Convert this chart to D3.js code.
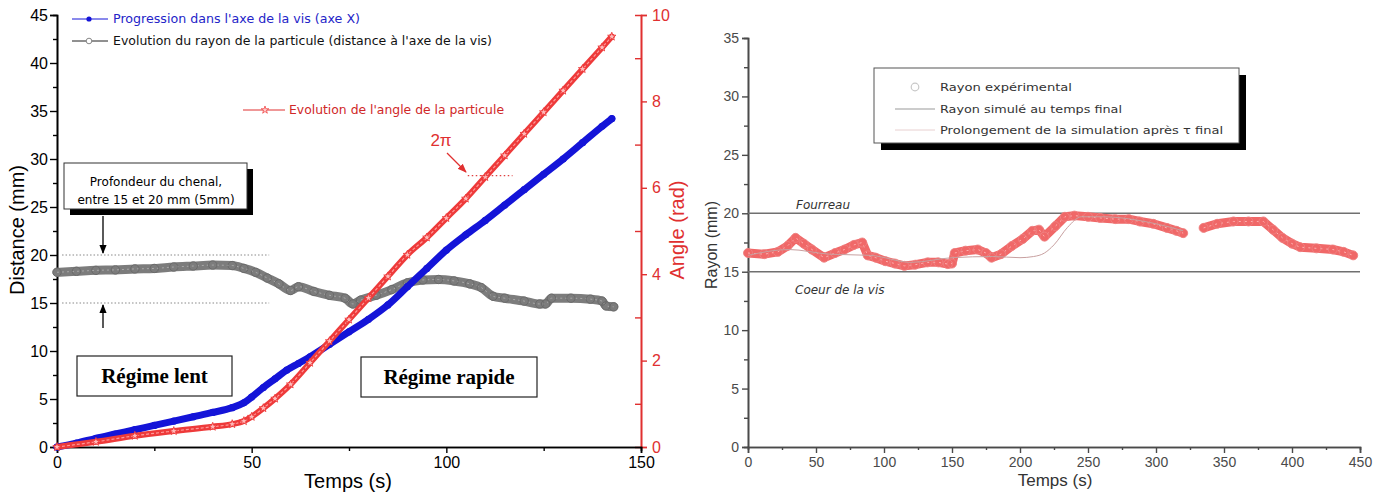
<!DOCTYPE html>
<html><head><meta charset="utf-8">
<script src="https://cdn.jsdelivr.net/npm/d3@7"></script>
<style>body{margin:0;background:#fff}svg{display:block}</style>
</head><body>
<svg id="c" width="1385" height="493"></svg>
<script>
// ---------- Data: left chart ----------
const blueT = [0,5,10,15,20,25,30,35,40,45,48,50,53,56,59,62,65,70,75,80,85,90,95,100,105,110,115,120,125,130,135,140,142.5];
const blueV = [0,0.4,0.9,1.35,1.8,2.25,2.7,3.15,3.6,4.1,4.6,5.2,6.2,7.1,8.0,8.7,9.4,10.7,12.0,13.3,14.8,16.7,18.6,20.5,22.1,23.6,25.2,26.8,28.4,30.0,31.7,33.4,34.2];
const redT = [0,10,20,30,40,45,48,50,53,56,60,65,70,75,80,85,90,95,100,105,110,115,120,125,130,135,140,142.5];
const redV = [0,0.12,0.26,0.37,0.47,0.53,0.6,0.7,0.9,1.12,1.45,1.95,2.45,2.95,3.45,3.95,4.45,4.85,5.3,5.75,6.25,6.75,7.25,7.75,8.25,8.75,9.25,9.5];
const grayT = [0,5,10,15,20,25,30,35,40,45,48,51,54,57,60,62,66,70,74,76,78,82,86,90,94,98,102,106,109,112,115,120,124,125.5,127,132,137,140,141,143];
const grayV = [18.2,18.3,18.4,18.45,18.55,18.6,18.75,18.85,18.95,18.9,18.6,18.2,17.6,17.0,16.3,16.7,16.2,15.8,15.5,14.9,15.3,15.8,16.4,17.1,17.4,17.45,17.3,17.0,16.6,15.7,15.5,15.2,14.9,14.9,15.5,15.5,15.4,15.2,14.7,14.6];
const xTicksL = [0,50,100,150];
const yTicksL = [0,5,10,15,20,25,30,35,40,45];
const aTicks = [0,2,4,6,8,10];
const channelLevels = [15,20];
const twoPiSpan = [105.5,117];

// ---------- Data: right chart ----------
const expSeg1T = [0,12,22,29,35,41,47,56,64,71,78,84,88,94,101,108,115,123,132,140,147,150,152,160,169,175,179,186,194,202,209,214,218,226,233,240,250,259,270,280,288,298,308,315,320];
const expSeg1V = [16.6,16.5,16.7,17.2,17.9,17.4,16.9,16.2,16.6,16.9,17.3,17.5,16.4,16.2,15.9,15.7,15.5,15.6,15.8,15.8,15.65,15.7,16.6,16.8,16.9,16.6,16.2,16.5,17.2,17.8,18.5,18.6,18.0,18.9,19.7,19.8,19.7,19.6,19.5,19.5,19.3,19.1,18.75,18.5,18.3];
const expSeg2T = [335,345,357,368,379,386,393,400,406,418,430,438,445];
const expSeg2V = [18.75,19.1,19.3,19.3,19.3,18.6,17.9,17.4,17.1,17.0,16.9,16.7,16.4];
const simT = [0,30,60,90,120,150,180,200,210,218,225,235,245,260,300,320];
const simV = [16.4,16.9,16.5,16.4,15.8,16.2,16.3,16.2,16.3,16.6,17.3,18.8,19.7,19.7,19.1,18.5];
const xTicksR = [0,50,100,150,200,250,300,350,400,450];
const yTicksR = [0,5,10,15,20,25,30,35];
const boundLevels = [{v:20,label:"Fourreau"},{v:15,label:"Coeur de la vis"}];

// ---------- Drawing ----------
const svg = d3.select("#c");
const comic = "'DejaVu Sans', sans-serif";

const xL = d3.scaleLinear().domain([0,150]).range([57,641]);
const yL = d3.scaleLinear().domain([0,45]).range([447,15]);
const yA = d3.scaleLinear().domain([0,10]).range([447,15]);
const xR = d3.scaleLinear().domain([0,450]).range([748,1360]);
const yR = d3.scaleLinear().domain([0,35]).range([447,38]);

function styleAxis(g, color, fs, family){
  g.selectAll("path.domain").attr("stroke", color).attr("stroke-width", 1.6);
  g.selectAll(".tick line").attr("stroke", color).attr("stroke-width", 1.4);
  g.selectAll(".tick text").attr("fill", color).style("font-size", fs+"px").style("font-family", family||"Arial, 'Liberation Sans', sans-serif");
}
const minorOf = (arr, step) => { const r=[]; for(let i=0;i<arr.length-1;i++) r.push(arr[i]+step/2); return r; };

// ----- Left chart axes -----
let g = svg.append("g").attr("transform","translate(57,0)")
  .call(d3.axisLeft(yL).tickValues(minorOf(yTicksL,5)).tickSize(4).tickFormat(""));
styleAxis(g,"#000",16);
g = svg.append("g").attr("transform","translate(57,0)")
  .call(d3.axisLeft(yL).tickValues(yTicksL).tickSize(7).tickPadding(2).tickFormat(d3.format("d")));
styleAxis(g,"#000",16);

g = svg.append("g").attr("transform","translate(641,0)")
  .call(d3.axisLeft(yA).tickValues(minorOf(aTicks,2)).tickSize(6).tickFormat(""));
styleAxis(g,"#e03030",16);
g = svg.append("g").attr("transform","translate(641,0)")
  .call(d3.axisRight(yA).tickValues(aTicks).tickSize(6).tickPadding(5).tickFormat(d3.format("d")));
styleAxis(g,"#e03030",16);

g = svg.append("g").attr("transform","translate(0,447)")
  .call(d3.axisBottom(xL).tickValues(minorOf(xTicksL,50)).tickSize(4).tickFormat(""));
styleAxis(g,"#000",16);
g = svg.append("g").attr("transform","translate(0,447)")
  .call(d3.axisBottom(xL).tickValues(xTicksL).tickSize(6).tickPadding(4).tickFormat(d3.format("d")));
styleAxis(g,"#000",16);

svg.append("text").attr("x",348).attr("y",488).attr("text-anchor","middle")
  .style("font-family","Arial, 'Liberation Sans', sans-serif").style("font-size","20px").text("Temps (s)");
svg.append("text").attr("transform","translate(24,230) rotate(-90)").attr("text-anchor","middle")
  .style("font-family","Arial, 'Liberation Sans', sans-serif").style("font-size","20px").text("Distance (mm)");
svg.append("text").attr("transform","translate(684,230) rotate(-90)").attr("text-anchor","middle").attr("fill","#e03030")
  .style("font-family","Arial, 'Liberation Sans', sans-serif").style("font-size","20px").text("Angle (rad)");

svg.selectAll("line.chan").data(channelLevels).join("line")
  .attr("x1",xL(1.3)).attr("x2",xL(54.5)).attr("y1",d=>yL(d)).attr("y2",d=>yL(d))
  .attr("stroke","#888").attr("stroke-width",1).attr("stroke-dasharray","1.5,2");

const lineL = (ts,vs,y) => d3.line().x((d,i)=>xL(ts[i])).y(d=>y(d)).curve(d3.curveMonotoneX)(vs);
// gray
svg.append("path").attr("d",lineL(grayT,grayV,yL)).attr("fill","none").attr("stroke","#7c7c7c").attr("stroke-width",9).attr("stroke-linecap","round");
svg.append("path").attr("d",lineL(grayT,grayV,yL)).attr("fill","none").attr("stroke","#a8a8a8").attr("stroke-width",1).attr("stroke-dasharray","2,3");
svg.selectAll("circle.gr").data(grayV).join("circle")
  .attr("cx",(d,i)=>xL(grayT[i])).attr("cy",d=>yL(d)).attr("r",4.2)
  .attr("fill","none").attr("stroke","#6a6a6a").attr("stroke-width",1);
// blue
svg.append("path").attr("d",lineL(blueT,blueV,yL)).attr("fill","none").attr("stroke","#1414d8").attr("stroke-width",7).attr("stroke-linecap","round");
svg.selectAll("circle.bl").data(blueV).join("circle")
  .attr("cx",(d,i)=>xL(blueT[i])).attr("cy",d=>yL(d)).attr("r",3.6).attr("fill","#1414d8");
// red
svg.append("path").attr("d",lineL(redT,redV,yA)).attr("fill","none").attr("stroke","#ee3a3a").attr("stroke-width",6).attr("stroke-linecap","round");
svg.append("path").attr("d",lineL(redT,redV,yA)).attr("fill","none").attr("stroke","#ff9a9a").attr("stroke-width",1.2).attr("stroke-dasharray","3,2");
svg.selectAll("path.star").data(redV).join("path")
  .attr("transform",(d,i)=>`translate(${xL(redT[i])},${yA(d)})`)
  .attr("d",d3.symbol(d3.symbolStar,22)).attr("fill","#fbb").attr("stroke","#e33").attr("stroke-width",0.8);

// 2pi marker
svg.append("line").attr("x1",xL(twoPiSpan[0])).attr("x2",xL(twoPiSpan[1]))
  .attr("y1",yA(2*Math.PI)).attr("y2",yA(2*Math.PI))
  .attr("stroke","#e04040").attr("stroke-width",1.2).attr("stroke-dasharray","1.5,2.5");
svg.append("text").attr("x",441).attr("y",146).attr("text-anchor","middle").attr("fill","#e03030")
  .style("font-family","Arial, 'Liberation Sans', sans-serif").style("font-size","17px").text("2π");
const defs = svg.append("defs");
function marker(id,color){
  defs.append("marker").attr("id",id).attr("viewBox","0 0 10 10").attr("refX",9).attr("refY",5)
   .attr("markerWidth",7).attr("markerHeight",7).attr("orient","auto")
   .append("path").attr("d","M0,1 L10,5 L0,9 Z").attr("fill",color);
}
marker("ar","#e03030"); marker("ak","#000");
svg.append("line").attr("x1",447).attr("y1",153).attr("x2",466).attr("y2",172).attr("stroke","#e03030").attr("stroke-width",1.3).attr("marker-end","url(#ar)");

// Profondeur box
svg.append("rect").attr("x",70).attr("y",169).attr("width",183).attr("height",46).attr("fill","#000");
svg.append("rect").attr("x",64).attr("y",163).attr("width",183).attr("height",46).attr("fill","#fff").attr("stroke","#333").attr("stroke-width",1);
svg.append("text").attr("x",156).attr("y",186).attr("text-anchor","middle").style("font-family",comic).style("font-size","12px").text("Profondeur du chenal,");
svg.append("text").attr("x",156).attr("y",204).attr("text-anchor","middle").style("font-family",comic).style("font-size","12px").text("entre 15 et 20 mm (5mm)");
svg.append("line").attr("x1",103).attr("y1",216).attr("x2",103).attr("y2",253).attr("stroke","#000").attr("stroke-width",1.3).attr("marker-end","url(#ak)");
svg.append("line").attr("x1",103).attr("y1",328).attr("x2",103).attr("y2",305).attr("stroke","#000").attr("stroke-width",1.3).attr("marker-end","url(#ak)");

// regime boxes
[["Régime lent",77,356,155],["Régime rapide",361,357,176]].forEach(([t,x,y,w])=>{
  svg.append("rect").attr("x",x).attr("y",y).attr("width",w).attr("height",40).attr("fill","#fff").attr("stroke","#222").attr("stroke-width",1.2);
  svg.append("text").attr("x",x+w/2).attr("y",y+27).attr("text-anchor","middle")
   .style("font-family","'Liberation Serif', 'DejaVu Serif', serif").style("font-weight","bold").style("font-size","21px").text(t);
});

// legend left
svg.append("line").attr("x1",72).attr("x2",108).attr("y1",19).attr("y2",19).attr("stroke","#1414d8").attr("stroke-width",1);
svg.append("circle").attr("cx",89).attr("cy",19).attr("r",2.6).attr("fill","#1414d8");
svg.append("text").attr("x",113).attr("y",23).attr("fill","#2424c8").attr("textLength",247).attr("lengthAdjust","spacingAndGlyphs")
  .style("font-family",comic).style("font-size","12px").text("Progression dans l'axe de la vis (axe X)");
svg.append("line").attr("x1",72).attr("x2",108).attr("y1",41).attr("y2",41).attr("stroke","#222").attr("stroke-width",1);
svg.append("circle").attr("cx",89).attr("cy",41).attr("r",2.8).attr("fill","#fff").attr("stroke","#888");
svg.append("text").attr("x",113).attr("y",45).attr("fill","#111").attr("textLength",379).attr("lengthAdjust","spacingAndGlyphs")
  .style("font-family",comic).style("font-size","12px").text("Evolution du rayon de la particule (distance à l'axe de la vis)");
svg.append("line").attr("x1",243).attr("x2",285).attr("y1",110).attr("y2",110).attr("stroke","#e03030").attr("stroke-width",1);
svg.append("path").attr("transform","translate(265,110)").attr("d",d3.symbol(d3.symbolStar,18)).attr("fill","#fcc").attr("stroke","#e33").attr("stroke-width",0.7);
svg.append("text").attr("x",289).attr("y",114).attr("fill","#d02828").attr("textLength",215).attr("lengthAdjust","spacingAndGlyphs")
  .style("font-family",comic).style("font-size","12px").text("Evolution de l'angle de la particule");

// ----- Right chart -----
const gr = "#4a4a4a";
g = svg.append("g").attr("transform","translate(748,0)")
  .call(d3.axisLeft(yR).tickValues(minorOf(yTicksR,5)).tickSize(4).tickFormat(""));
styleAxis(g,gr,14);
g = svg.append("g").attr("transform","translate(748,0)")
  .call(d3.axisLeft(yR).tickValues(yTicksR).tickSize(6).tickPadding(3).tickFormat(d3.format("d")));
styleAxis(g,gr,14);
g = svg.append("g").attr("transform","translate(0,447)")
  .call(d3.axisBottom(xR).tickValues(minorOf(xTicksR,50)).tickSize(3).tickFormat(""));
styleAxis(g,gr,14);
g = svg.append("g").attr("transform","translate(0,447)")
  .call(d3.axisBottom(xR).tickValues(xTicksR).tickSize(6).tickPadding(4).tickFormat(d3.format("d")));
styleAxis(g,gr,14);
svg.append("text").attr("x",1055).attr("y",486).attr("text-anchor","middle").attr("fill","#333")
  .style("font-family","Arial, 'Liberation Sans', sans-serif").style("font-size","17px").text("Temps (s)");
svg.append("text").attr("transform","translate(717,245) rotate(-90)").attr("text-anchor","middle").attr("fill","#333")
  .style("font-family","Arial, 'Liberation Sans', sans-serif").style("font-size","16px").text("Rayon (mm)");

svg.selectAll("line.bound").data(boundLevels).join("line")
  .attr("x1",xR(0)).attr("x2",xR(450)).attr("y1",d=>yR(d.v)).attr("y2",d=>yR(d.v))
  .attr("stroke","#707070").attr("stroke-width",1.6);
svg.append("text").attr("x",796).attr("y",yR(20)-4).attr("fill","#333").style("font-style","italic")
  .style("font-family",comic).style("font-size","12px").text(boundLevels[0].label);
svg.append("text").attr("x",795).attr("y",yR(15)+22).attr("fill","#333").style("font-style","italic")
  .style("font-family",comic).style("font-size","12px").text(boundLevels[1].label);

const lineR = (ts,vs) => d3.line().x((d,i)=>xR(ts[i])).y(d=>yR(d)).curve(d3.curveLinear)(vs);
[[expSeg1T,expSeg1V],[expSeg2T,expSeg2V]].forEach(([ts,vs])=>{
  svg.append("path").attr("d",lineR(ts,vs)).attr("fill","none").attr("stroke","#f06868").attr("stroke-width",9).attr("stroke-linejoin","round").attr("stroke-linecap","round");
  svg.append("path").attr("d",lineR(ts,vs)).attr("fill","none").attr("stroke","#ffb0b0").attr("stroke-width",1).attr("stroke-dasharray","2,4");
  svg.selectAll(null).data(vs).join("circle")
    .attr("cx",(d,i)=>xR(ts[i])).attr("cy",d=>yR(d)).attr("r",4.5)
    .attr("fill","none").attr("stroke","#ee8080").attr("stroke-width",0.9);
});
svg.append("path").attr("d",d3.line().x((d,i)=>xR(simT[i])).y(d=>yR(d)).curve(d3.curveMonotoneX)(simV))
  .attr("fill","none").attr("stroke","#c8a0a0").attr("stroke-width",1);

// legend right
svg.append("rect").attr("x",881).attr("y",75).attr("width",365).attr("height",75).attr("fill","#000");
svg.append("rect").attr("x",874).attr("y",68).attr("width",365).attr("height",75).attr("fill","#fff").attr("stroke","#555").attr("stroke-width",1);
svg.append("circle").attr("cx",915).attr("cy",87).attr("r",3.8).attr("fill","none").attr("stroke","#c8c8c8").attr("stroke-width",1.2);
svg.append("line").attr("x1",895).attr("x2",935).attr("y1",109).attr("y2",109).attr("stroke","#999").attr("stroke-width",1);
svg.append("line").attr("x1",895).attr("x2",935).attr("y1",130).attr("y2",130).attr("stroke","#e8d0d0").attr("stroke-width",1);
[["Rayon expérimental",91,132],["Rayon simulé au temps final",113,182],["Prolongement de la simulation après τ final",134,283]].forEach(([t,y,w])=>{
  svg.append("text").attr("x",940).attr("y",y).attr("fill","#333").attr("textLength",w).attr("lengthAdjust","spacingAndGlyphs")
   .style("font-family",comic).style("font-size","11px").text(t);
});
</script>
</body></html>
